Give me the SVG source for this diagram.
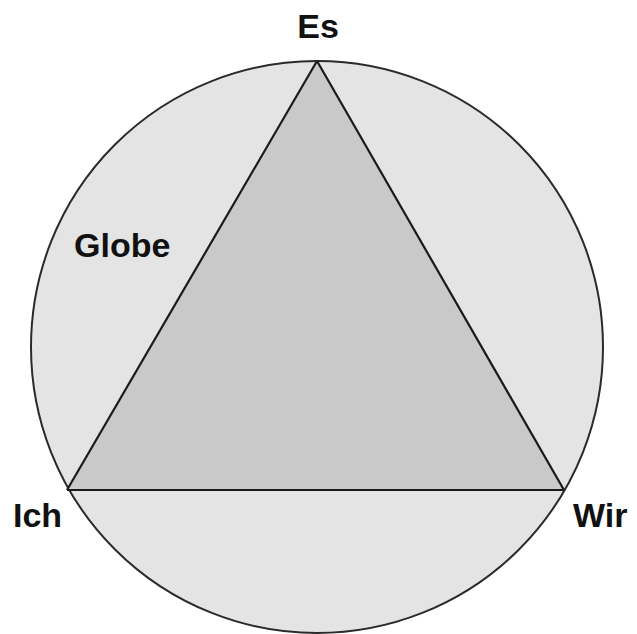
<svg xmlns="http://www.w3.org/2000/svg" width="637" height="634" viewBox="0 0 637 634">
<style>
.lbl{font-family:"Liberation Sans",Arial,sans-serif;font-weight:bold;font-size:34px;fill:#111}
.edge{stroke:#1a1a1a;stroke-width:2.2;fill:none}
</style>
<rect width="637" height="634" fill="#ffffff"/>
<g id="globe">
<circle cx="317" cy="347" r="286" fill="#e4e4e4" stroke="#2a2a2a" stroke-width="2"/>
</g>
<g id="triangle">
<polygon points="317,61 67,490 564,490" fill="#c9c9c9"/>
</g>
<g id="connectors">
<line class="edge" x1="317" y1="61" x2="67" y2="490"/>
<line class="edge" x1="317" y1="61" x2="564" y2="490"/>
<line class="edge" x1="67" y1="490" x2="564" y2="490"/>
</g>
<g id="node-es"><text class="lbl" x="318" y="38" text-anchor="middle">Es</text></g>
<g id="node-ich"><text class="lbl" x="13" y="527">Ich</text></g>
<g id="node-wir"><text class="lbl" x="573" y="527">Wir</text></g>
<g id="label-globe"><text class="lbl" x="74" y="257">Globe</text></g>
</svg>
